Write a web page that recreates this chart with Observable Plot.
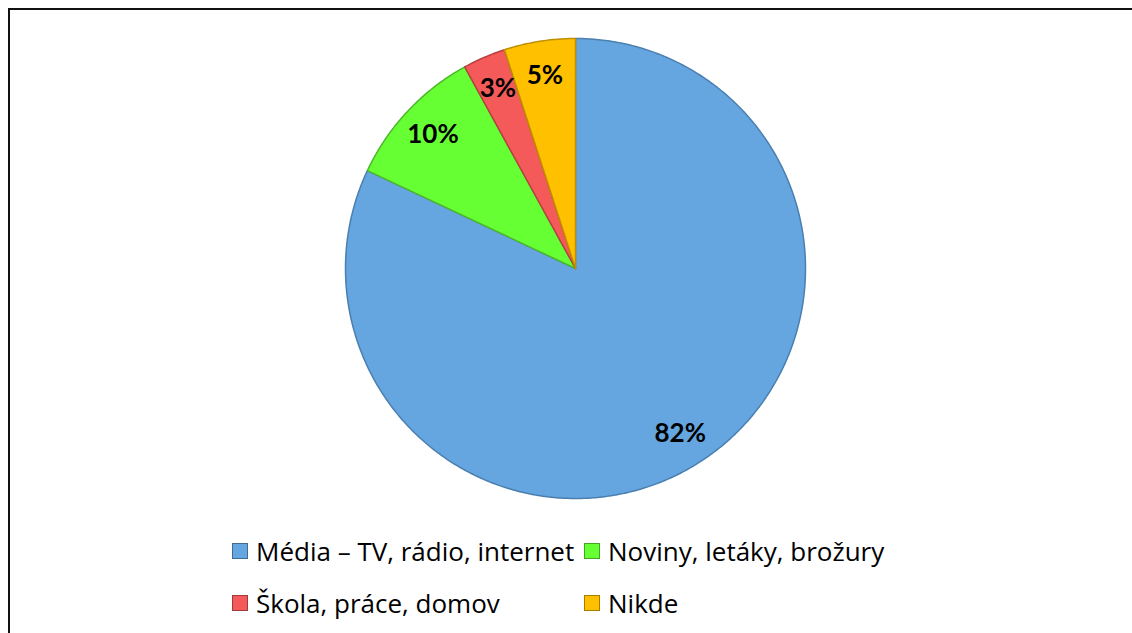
<!DOCTYPE html>
<html>
<head>
<meta charset="utf-8">
<script src="https://cdn.jsdelivr.net/npm/d3@7"></script>
<script src="https://cdn.jsdelivr.net/npm/@observablehq/plot@0.6"></script>
<style>
  html, body { margin: 0; padding: 0; background: #fff; }
  #wrap { position: relative; width: 1132px; height: 633px; overflow: hidden; background: #fff; }
  #frame { position: absolute; left: 8px; top: 8px; width: 1130px; height: 630px;
           border-top: 2px solid #111; border-left: 2px solid #111; box-sizing: border-box; }
  #chart { position: absolute; left: 0; top: 0; }
  .leg { position: absolute; font-family: "Open Sans", Lato, sans-serif; font-size: 26px; color: #000;
         display: flex; align-items: center; white-space: nowrap; }
  .sw { width: 16px; height: 16px; margin-right: 8px; box-sizing: border-box; border: 1px solid rgba(0,0,0,0.35); }
</style>
</head>
<body>
<div id="wrap">
  <div id="frame"></div>
  <div id="chart"></div>
  <div id="legend"></div>
</div>
<script>
const categories = ["Média – TV, rádio, internet", "Noviny, letáky, brožury", "Škola, práce, domov", "Nikde"];
const values = [82, 10, 3, 5];
const labels = ["82%", "10%", "3%", "5%"];
const colors = ["#65A6E0", "#66FF33", "#F55A5A", "#FFC000"];
const strokes = ["#4A7FB0", "#4DB82A", "#B84040", "#C08F00"];

const arcs = d3.pie().sort(null).startAngle(0).endAngle(2 * Math.PI)(values);

const slicePts = [];
arcs.forEach((a, i) => {
  slicePts.push({cat: categories[i], x: 0, y: 0});
  const n = Math.max(4, Math.ceil((a.endAngle - a.startAngle) / 0.01));
  for (let k = 0; k <= n; k++) {
    const t = a.startAngle + (a.endAngle - a.startAngle) * k / n;
    slicePts.push({cat: categories[i], x: Math.sin(t), y: Math.cos(t)});
  }
  slicePts.push({cat: categories[i], x: 0, y: 0});
});

const labelPts = arcs.map((a, i) => {
  const m = (a.startAngle + a.endAngle) / 2;
  return {label: labels[i], x: 0.85 * Math.sin(m), y: 0.85 * Math.cos(m)};
});

const sliceMarks = categories.map((c, i) =>
  Plot.line(slicePts.filter(d => d.cat === c), {x: "x", y: "y", fill: colors[i],
    stroke: strokes[i], strokeWidth: 1.5, strokeLinejoin: "round"})
);

const chart = Plot.plot({
  width: 1132,
  height: 520,
  marginLeft: 345,
  marginRight: 327,
  marginTop: 38,
  marginBottom: 22,
  x: {domain: [-1, 1], axis: null},
  y: {domain: [-1, 1], axis: null},
  style: {background: "transparent"},
  marks: [
    ...sliceMarks,
    Plot.text(labelPts, {x: "x", y: "y", text: "label", fontSize: 26, fontWeight: "bold",
      fontFamily: "Lato, 'Open Sans', sans-serif", fill: "black"})
  ]
});
document.getElementById("chart").appendChild(chart);

const legendPos = [
  {left: 232, top: 551}, {left: 584, top: 551},
  {left: 232, top: 603}, {left: 584, top: 603}
];
const legend = document.getElementById("legend");
categories.forEach((c, i) => {
  const el = document.createElement("div");
  el.className = "leg";
  el.style.left = legendPos[i].left + "px";
  el.style.top = (legendPos[i].top - 18) + "px";
  el.style.height = "36px";
  const sw = document.createElement("div");
  sw.className = "sw";
  sw.style.background = colors[i];
  el.appendChild(sw);
  const tx = document.createElement("span");
  tx.textContent = c;
  el.appendChild(tx);
  legend.appendChild(el);
});
</script>
</body>
</html>
